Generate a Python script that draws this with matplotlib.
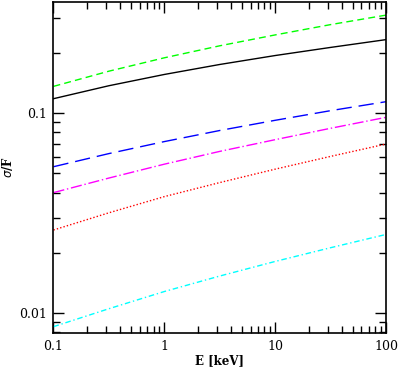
import matplotlib
matplotlib.use('Agg')
import matplotlib.pyplot as plt
from matplotlib.ticker import LogLocator, NullFormatter, FixedLocator, FixedFormatter

# energies (keV) and sigma/F
energy  = [0.1, 0.316, 1.0, 3.16, 10.0, 31.6, 100.0]
green   = [0.136, 0.162, 0.189, 0.217, 0.246, 0.277, 0.309]
black   = [0.118, 0.137, 0.156, 0.175, 0.194, 0.213, 0.233]
blue    = [0.0539, 0.0627, 0.072, 0.0818, 0.092, 0.1028, 0.114]
magenta = [0.040, 0.0473, 0.0555, 0.0643, 0.0736, 0.0839, 0.0952]
red     = [0.026, 0.0317, 0.0382, 0.0449, 0.0524, 0.0607, 0.070]
cyan    = [0.00854, 0.0105, 0.0128, 0.0153, 0.0181, 0.0212, 0.0247]

xticks = [0.1, 1, 10, 100]
xlabels = ['0.1', '1', '10', '100']
yticks = [0.01, 0.1]
ylabels = ['0.01', '0.1']


def main():
    plt.rc('font', family='DejaVu Serif')
    fig = plt.figure(figsize=(3.98, 3.69), dpi=100)
    ax = fig.add_axes([0.1344, 0.0976, 0.8354, 0.898])

    lw = 1.0
    ax.plot(energy, green, color='#00ff00', lw=lw, dashes=(5, 3))
    ax.plot(energy, black, color='black', lw=lw)
    ax.plot(energy, blue, color='#0000ff', lw=lw, dashes=(11, 5))
    ax.plot(energy, magenta, color='#ff00ff', lw=lw, dashes=(8, 2, 1, 2))
    ax.plot(energy, red, color='#ff0000', lw=lw, dashes=(1, 1.5))
    ax.plot(energy, cyan, color='#00ffff', lw=lw, dashes=(4, 2, 1, 2))

    ax.set_xscale('log')
    ax.set_yscale('log')
    ax.set_xlim(0.1, 100)
    ax.set_ylim(0.00794, 0.361)

    ax.xaxis.set_major_locator(FixedLocator(xticks))
    ax.xaxis.set_major_formatter(FixedFormatter(xlabels))
    ax.yaxis.set_major_locator(FixedLocator(yticks))
    ax.yaxis.set_major_formatter(FixedFormatter(ylabels))
    for axis in (ax.xaxis, ax.yaxis):
        axis.set_minor_locator(LogLocator(base=10, subs=range(2, 10)))
        axis.set_minor_formatter(NullFormatter())

    ax.tick_params(which='both', direction='in', top=True, right=True,
                   width=1, labelsize=9, pad=5)
    ax.tick_params(which='major', length=8)
    ax.tick_params(which='minor', length=5)
    for sp in ax.spines.values():
        sp.set_linewidth(1.2)

    ax.set_xlabel('E [keV]', fontsize=8.5, fontweight='bold', labelpad=1)
    ax.set_ylabel(r'$\sigma$/F', fontsize=8.5, fontweight='bold', labelpad=3)

    fig.savefig('out.png', dpi=100)


if __name__ == '__main__':
    main()
